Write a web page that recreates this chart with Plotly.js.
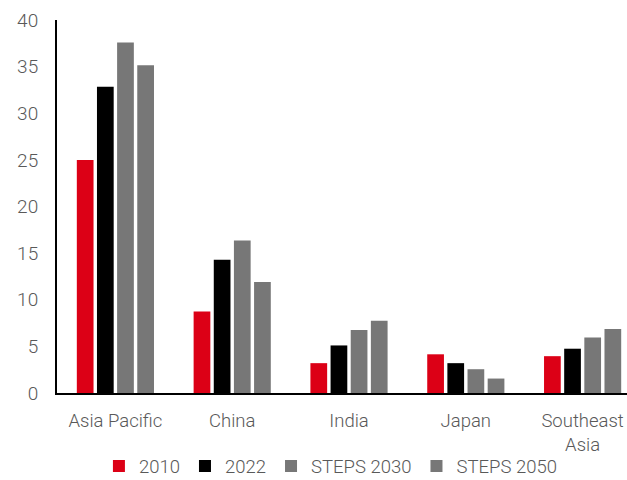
<!DOCTYPE html>
<html>
<head>
<meta charset="utf-8">
<script src="https://cdn.plot.ly/plotly-3.0.1.min.js"></script>
<style>
  html, body { margin: 0; padding: 0; background: #ffffff; }
  #chart { width: 627px; height: 480px; }
</style>
</head>
<body>
<div id="chart"></div>
<script>
// Regions along the category axis
const regions = ['Asia Pacific', 'China', 'India', 'Japan', 'Southeast<br>Asia'];

// Values per series
const v2010 = [25.0, 8.75, 3.2, 4.15, 3.95];
const v2022 = [32.85, 14.3, 5.1, 3.2, 4.75];
const steps2030 = [37.6, 16.35, 6.75, 2.55, 5.95];
const steps2050 = [35.15, 11.9, 7.75, 1.55, 6.85];

// Y-axis ticks
const yTicks = [0, 5, 10, 15, 20, 25, 30, 35, 40];

const seriesNames = ['2010', '2022', 'STEPS 2030', 'STEPS 2050'];
const seriesValues = [v2010, v2022, steps2030, steps2050];
const seriesColors = ['#DC0016', '#000000', '#777777', '#777777'];

const textColor = '#595959';
const fontFamily = 'Roboto, "Liberation Sans", Arial, sans-serif';
const textFont = { family: fontFamily, size: 18.5, color: textColor, weight: 300 };
const yTickFont = { family: fontFamily, size: 19, color: textColor, weight: 300 };

const traces = seriesNames.map((name, i) => ({
  type: 'bar',
  name: name,
  x: regions,
  y: seriesValues[i],
  marker: { color: seriesColors[i] },
  hoverinfo: 'x+y+name'
}));

const layout = {
  width: 627,
  height: 480,
  margin: { l: 57, r: 0, t: 20, b: 87, pad: 0 },
  paper_bgcolor: '#ffffff',
  plot_bgcolor: '#ffffff',
  font: textFont,
  barmode: 'group',
  bargap: 0.31,
  bargroupgap: 0.17,
  showlegend: true,
  legend: {
    orientation: 'h',
    xref: 'container',
    yref: 'container',
    x: 0.527,
    xanchor: 'center',
    y: 0.028,
    yanchor: 'middle',
    font: textFont,
    traceorder: 'normal',
    itemclick: false,
    itemdoubleclick: false
  },
  xaxis: {
    type: 'category',
    range: [-0.5, 4.38],
    showgrid: false,
    zeroline: false,
    showline: true,
    linecolor: '#000000',
    linewidth: 2,
    ticks: '',
    ticklabelstandoff: 10,
    tickfont: textFont,
    fixedrange: true
  },
  yaxis: {
    range: [0, 40],
    tickvals: yTicks,
    ticktext: yTicks.map(String),
    showgrid: false,
    zeroline: false,
    showline: true,
    linecolor: '#000000',
    linewidth: 2,
    ticks: '',
    ticklabelstandoff: 13,
    tickfont: yTickFont,
    fixedrange: true
  }
};

Plotly.newPlot('chart', traces, layout, { displayModeBar: false, staticPlot: true });
</script>
</body>
</html>
